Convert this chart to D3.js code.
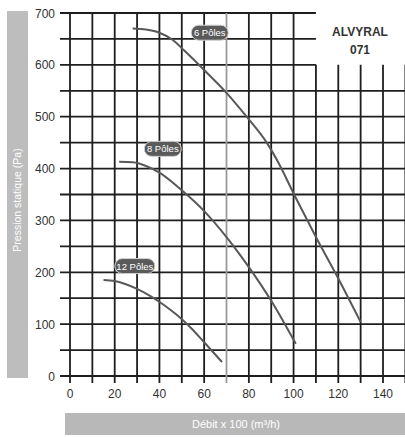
<!DOCTYPE html>
<html>
<head>
<meta charset="utf-8">
<script src="https://cdn.jsdelivr.net/npm/d3@7"></script>
<style>
  body { margin: 0; background: #fff; }
  svg { display: block; font-family: "Liberation Sans", Arial, sans-serif; }
</style>
</head>
<body>
<svg id="chart" width="405" height="437"></svg>
<script>
// courbes debit / pression (debit x 100 m3/h, pression Pa)
var courbe6 = [[28, 670], [34, 668], [40, 662], [46, 648], [51, 628], [60, 590], [70, 546], [79, 500], [88, 450], [94, 405], [100, 352], [105, 310], [110, 268], [120, 188], [130, 104]];
var courbe8 = [[22, 413], [28, 412], [34, 405], [40, 392], [50, 358], [60, 318], [70, 268], [80, 210], [90, 145], [101, 62]];
var courbe12 = [[15, 185], [20, 183], [25, 177], [30, 168], [36, 154], [42, 137], [48, 117], [54, 93], [60, 65], [68, 27]];

var etiquettes = ["6 Pôles", "8 Pôles", "12 Pôles"];
var posEtiquettes = [[62.5, 662], [41.5, 438], [29, 212]];

var xTicks = [0, 20, 40, 60, 80, 100, 120, 140];
var yTicks = [0, 100, 200, 300, 400, 500, 600, 700];
var titre = ["ALVYRAL", "071"];

var svg = d3.select("#chart");

var x = d3.scaleLinear().domain([0, 140]).range([70, 383]);
var y = d3.scaleLinear().domain([0, 700]).range([376, 13]);

var _gridColor = "#1e1e1e";
var _curveColor = "#585858";

// bandeaux gris des titres d'axes
svg.append("rect").attr("x", 7).attr("y", 11).attr("width", 21).attr("height", 367).style("fill", "#bdbdbd");
svg.append("text")
  .attr("transform", "translate(21," + 200 + ") rotate(-90)")
  .attr("text-anchor", "middle")
  .style("fill", "#fff").style("font-size", "10.5px")
  .text("Pression statique  (Pa)");

svg.append("rect").attr("x", 65).attr("y", 413).attr("width", 340).attr("height", 22).style("fill", "#b8b8b8");
svg.append("text")
  .attr("x", 236).attr("y", 428)
  .attr("text-anchor", "middle")
  .style("fill", "#fff").style("font-size", "11px")
  .text("Débit x 100 (m³/h)");

// grille (coin haut droit laisse vide pour le titre)
var g = svg.append("g");
var xs = d3.range(0, 151, 10);
var ys = d3.range(0, 701, 50);

ys.forEach(function(v){
  var xEnd = v >= 600 ? 110 : 150;
  g.append("line")
    .attr("x1", x(0) - 10).attr("x2", x(xEnd))
    .attr("y1", y(v)).attr("y2", y(v))
    .style("stroke", _gridColor).style("stroke-width", 1.8);
});

xs.forEach(function(v){
  var yTop = v > 100 ? 600 : 700;
  g.append("line")
    .attr("x1", x(v)).attr("x2", x(v))
    .attr("y1", y(yTop)).attr("y2", y(0) + 7)
    .style("stroke", v == 70 ? "#9a9a9a" : _gridColor)
    .style("stroke-width", 1.8);
});

// graduations
svg.append("g").selectAll("text").data(yTicks).enter().append("text")
  .attr("x", 55).attr("y", function(d){ return y(d) + 4.5; })
  .attr("text-anchor", "end")
  .style("fill", "#333").style("font-size", "12px")
  .text(function(d){ return d; });

svg.append("g").selectAll("text").data(xTicks).enter().append("text")
  .attr("x", function(d){ return x(d); }).attr("y", 398)
  .attr("text-anchor", "middle")
  .style("fill", "#333").style("font-size", "12px")
  .text(function(d){ return d; });

// courbes
var ligne = d3.line()
  .x(function(d){ return x(d[0]); })
  .y(function(d){ return y(d[1]); })
  .curve(d3.curveMonotoneX);

[courbe6, courbe8, courbe12].forEach(function(c){
  svg.append("path")
    .attr("d", ligne(c))
    .style("fill", "none")
    .style("stroke", _curveColor)
    .style("stroke-width", 2);
});

// etiquettes
etiquettes.forEach(function(t, i){
  var p = posEtiquettes[i];
  var w = t.length > 7 ? 40 : 37;
  var ge = svg.append("g").attr("transform", "translate(" + x(p[0]) + "," + y(p[1]) + ")");
  ge.append("rect")
    .attr("x", -w/2).attr("y", -7.5).attr("width", w).attr("height", 15)
    .attr("rx", 7.5)
    .style("fill", "#5a5a5a").style("stroke", "#d0d0d0").style("stroke-width", 1);
  ge.append("text")
    .attr("y", 3.5).attr("text-anchor", "middle")
    .style("fill", "#fff").style("font-size", "9.5px")
    .text(t);
});

// titre
svg.append("g").selectAll("text").data(titre).enter().append("text")
  .attr("x", 360).attr("y", function(d, i){ return 36 + i * 18; })
  .attr("text-anchor", "middle")
  .style("fill", "#333").style("font-size", "12px").style("font-weight", "bold")
  .text(function(d){ return d; });
</script>
</body>
</html>
